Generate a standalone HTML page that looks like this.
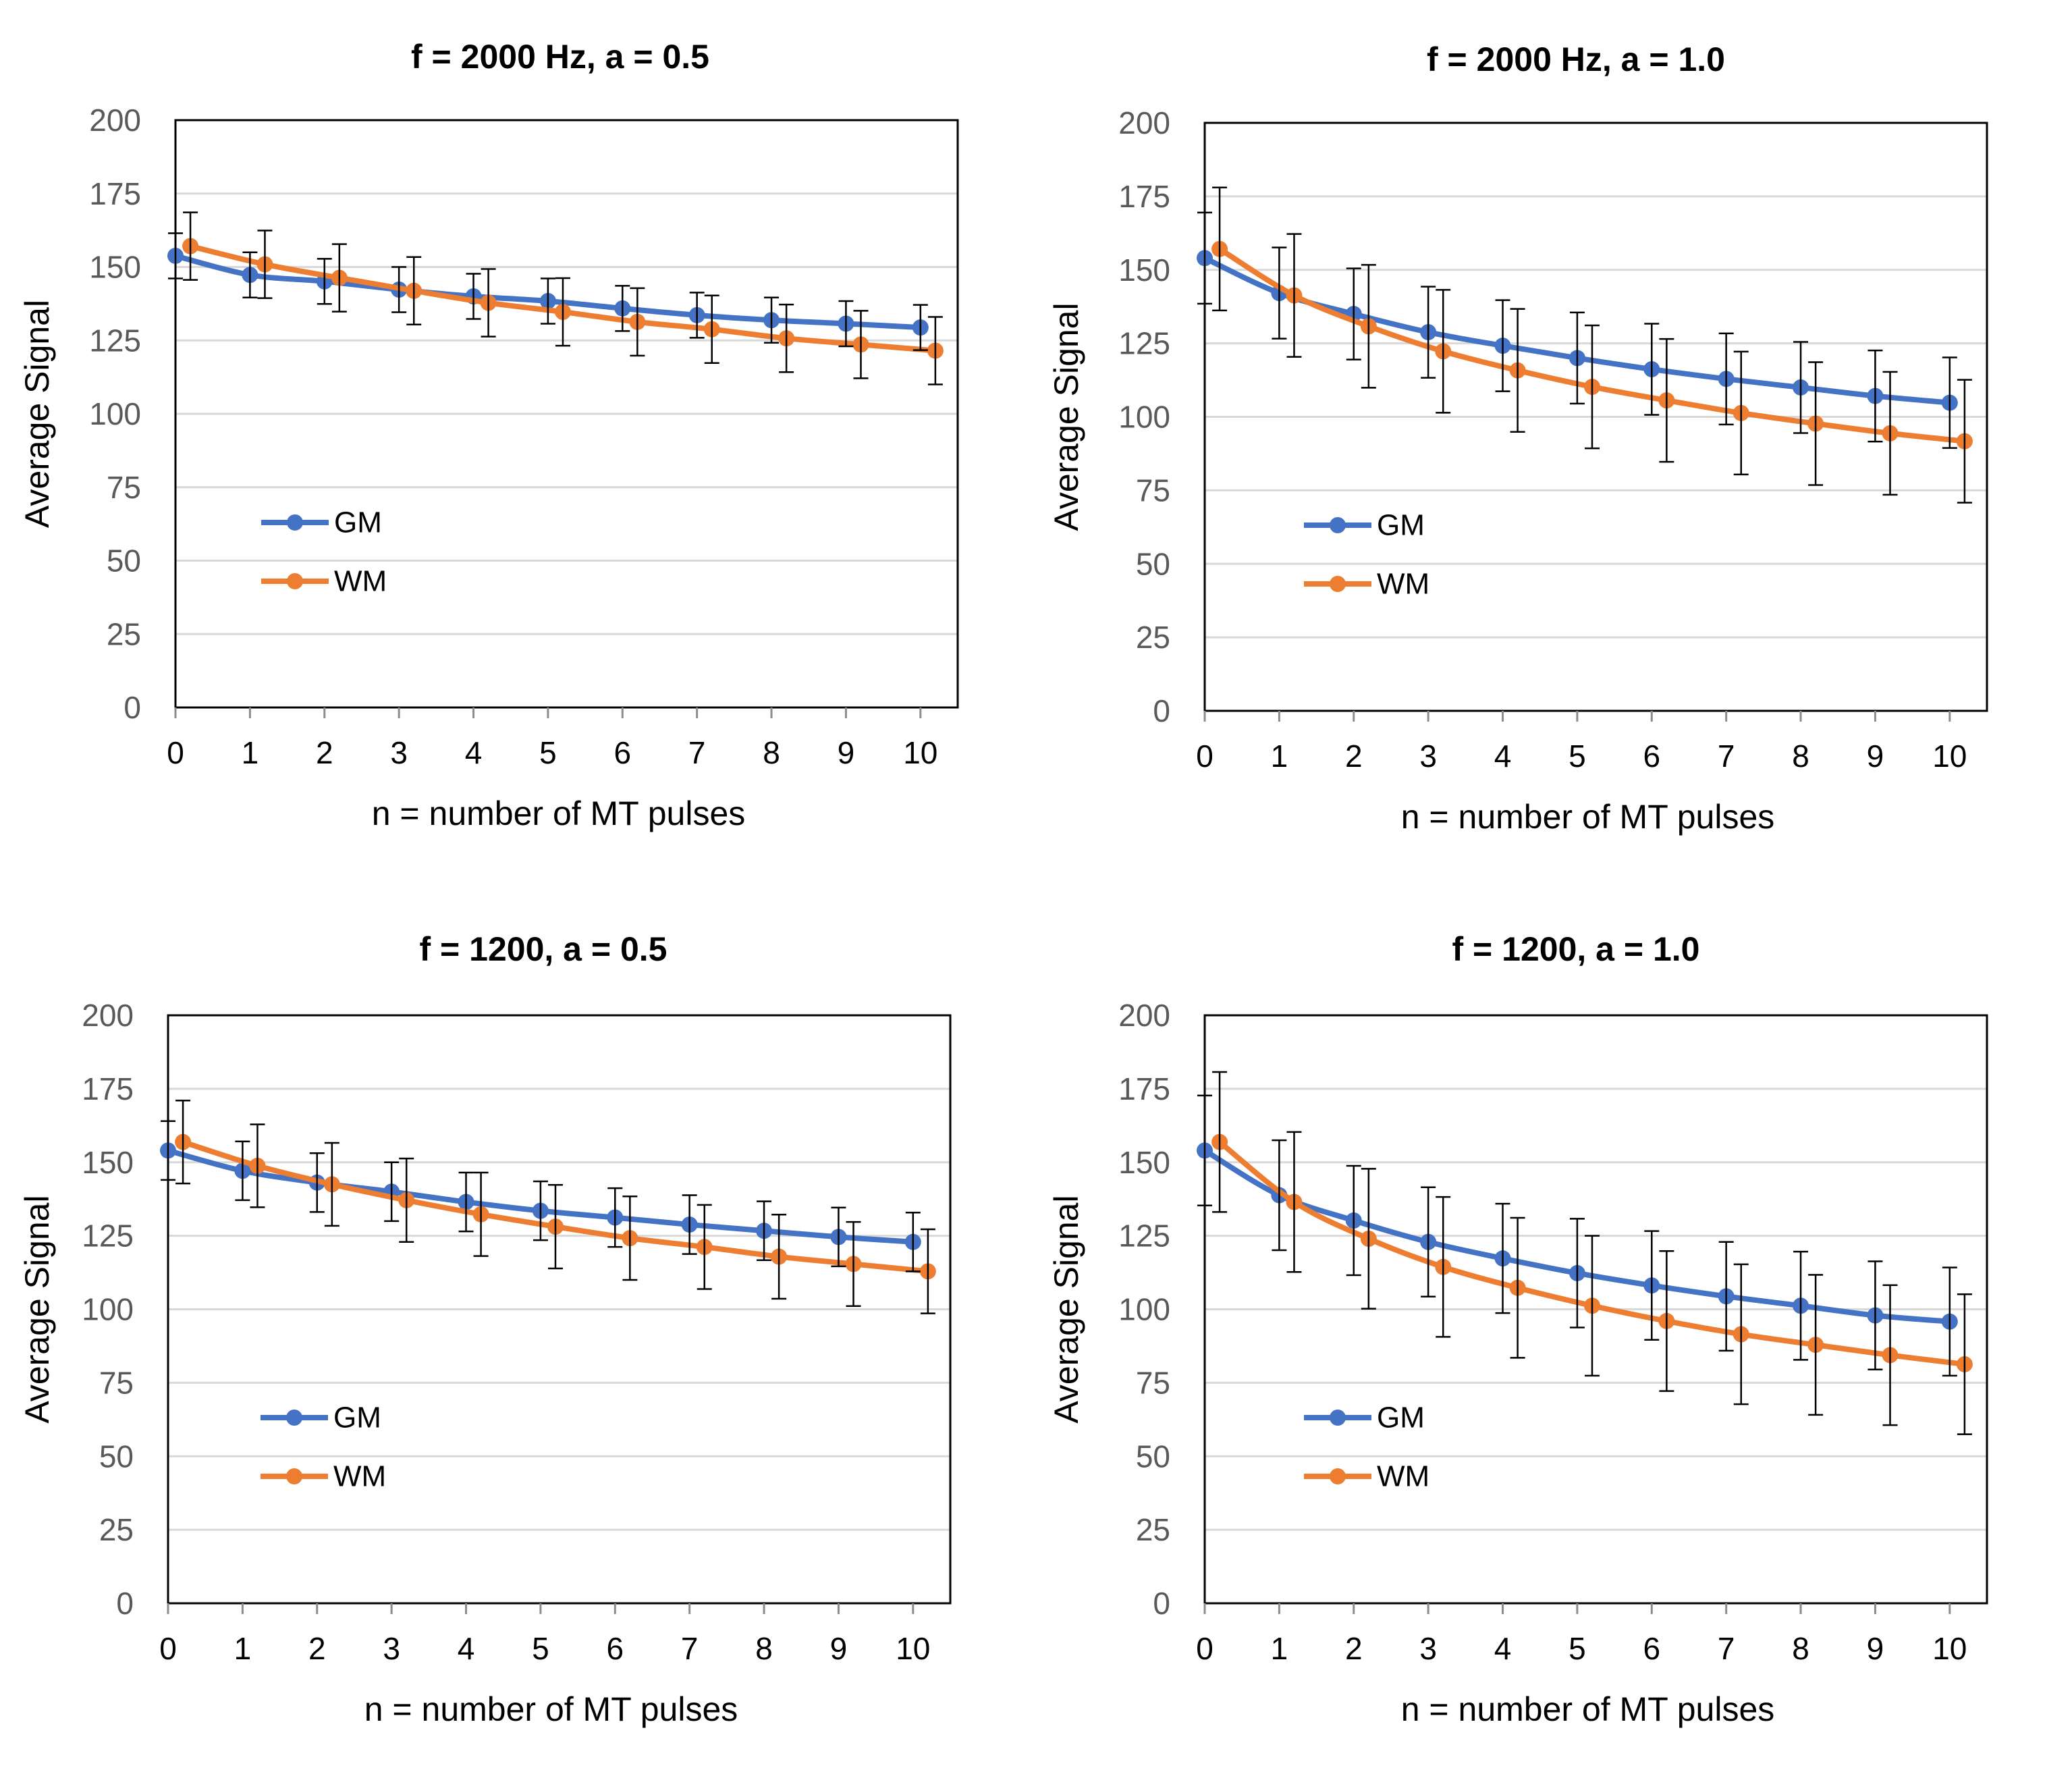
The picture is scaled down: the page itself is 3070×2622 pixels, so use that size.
<!DOCTYPE html>
<html><head><meta charset="utf-8"><style>
html,body{margin:0;padding:0;background:#fff;}
svg{display:block;font-family:"Liberation Sans",sans-serif;}
</style></head><body>
<svg id="fig" width="3070" height="2622" viewBox="0 0 3070 2622" xmlns="http://www.w3.org/2000/svg"></svg>
<script>
const categories = [0,1,2,3,4,5,6,7,8,9,10];
const yTicks = [0,25,50,75,100,125,150,175,200];
const titles = ["f = 2000 Hz, a = 0.5","f = 2000 Hz, a = 1.0","f = 1200, a = 0.5","f = 1200, a = 1.0"];
const gm1 = [153.8,147.3,145.1,142.3,140.0,138.4,135.9,133.6,131.9,130.7,129.4];
const wm1 = [157.1,150.9,146.3,141.9,137.8,134.7,131.3,128.8,125.7,123.6,121.5];
const gm1Err = [7.7,7.7,7.7,7.7,7.7,7.7,7.7,7.7,7.7,7.7,7.7];
const wm1Err = [11.5,11.5,11.5,11.5,11.5,11.5,11.5,11.5,11.5,11.5,11.5];
const gm2 = [154.0,142.1,135.0,128.8,124.2,120.0,116.2,112.9,110.0,107.1,104.8];
const wm2 = [157.1,141.3,130.8,122.3,115.8,110.2,105.6,101.3,97.7,94.4,91.7];
const gm2Err = [15.5,15.5,15.5,15.5,15.5,15.5,15.5,15.5,15.5,15.5,15.4];
const wm2Err = [20.9,20.9,20.9,20.9,20.9,20.9,20.9,20.9,20.9,20.9,20.9];
const gm3 = [154.0,147.1,143.1,140.0,136.5,133.5,131.2,128.8,126.7,124.6,122.9];
const wm3 = [156.9,148.8,142.5,137.1,132.3,128.1,124.2,121.2,117.9,115.4,112.9];
const gm3Err = [10,10,10,10,10,10,10,10,10,10,10];
const wm3Err = [14.1,14.1,14.1,14.2,14.2,14.2,14.2,14.3,14.3,14.3,14.3];
const gm4 = [154.0,138.8,130.2,122.9,117.3,112.3,108.1,104.4,101.2,97.9,95.8];
const wm4 = [156.9,136.5,124.0,114.4,107.3,101.2,96.0,91.5,87.9,84.4,81.3];
const gm4Err = [18.7,18.7,18.6,18.6,18.6,18.5,18.5,18.5,18.4,18.4,18.4];
const wm4Err = [23.8,23.8,23.8,23.8,23.8,23.8,23.8,23.8,23.8,23.8,23.8];

const NS="http://www.w3.org/2000/svg";
const svg=document.getElementById('fig');
function mk(tag,attrs,parent){const e=document.createElementNS(NS,tag);for(const k in attrs)e.setAttribute(k,attrs[k]);(parent||svg).appendChild(e);return e;}

const panels=[
 {L:260,R:1419,T:178,B:1048,title:titles[0],gm:gm1,wm:wm1,ge:gm1Err,we:wm1Err,tx:830,ty:84,legX:387,ytx:55},
 {L:1785,R:2944,T:182,B:1053,title:titles[1],gm:gm2,wm:wm2,ge:gm2Err,we:wm2Err,tx:2335,ty:88,legX:1932,ytx:1580},
 {L:249,R:1408,T:1504,B:2375,title:titles[2],gm:gm3,wm:wm3,ge:gm3Err,we:wm3Err,tx:805,ty:1406,legX:386,ytx:55},
 {L:1785,R:2944,T:1504,B:2375,title:titles[3],gm:gm4,wm:wm4,ge:gm4Err,we:wm4Err,tx:2335,ty:1406,legX:1932,ytx:1580}
];

function smoothPath(pts){
  let d="M"+pts[0][0]+","+pts[0][1];
  const t=1/6;
  for(let i=0;i<pts.length-1;i++){
    const p0=pts[i-1]||pts[i],p1=pts[i],p2=pts[i+1],p3=pts[i+2]||p2;
    const c1=[p1[0]+(p2[0]-p0[0])*t, p1[1]+(p2[1]-p0[1])*t];
    const c2=[p2[0]-(p3[0]-p1[0])*t, p2[1]-(p3[1]-p1[1])*t];
    d+=" C"+c1[0]+","+c1[1]+" "+c2[0]+","+c2[1]+" "+p2[0]+","+p2[1];
  }
  return d;
}

panels.forEach((p,pi)=>{
  const g=mk('g',{});
  
  
  const step=(p.R-p.L)/10.5;
  const xs=v=>p.L+v*step;
  const ys=v=>p.B-(v/200)*(p.B-p.T);
  const t=mk('text',{x:p.tx,y:p.ty,'text-anchor':'middle','dominant-baseline':'central','font-size':50,'font-weight':'bold',fill:'#000'},g);
  t.textContent=p.title;
  
  
  yTicks.forEach(v=>{
    if(v>0&&v<200){const gl=mk('line',{x1:p.L,x2:p.R,y1:ys(v),y2:ys(v),stroke:'#d9d9d9','stroke-width':3},g);
    
    }
    const lb=mk('text',{x:p.L-51,y:ys(v),'text-anchor':'end','dominant-baseline':'central','font-size':46,fill:'#595959'},g);
    lb.textContent=v;
    
    
  });
  const box=mk('rect',{x:p.L,y:p.T,width:p.R-p.L,height:p.B-p.T,fill:'none',stroke:'#000','stroke-width':3},g);
  
  
  categories.forEach(c=>{
    const tk=mk('line',{x1:xs(c),x2:xs(c),y1:p.B,y2:p.B+16,stroke:'#8c8c8c','stroke-width':3},g);
    
    
    const lb=mk('text',{x:xs(c),y:p.B+67,'text-anchor':'middle','dominant-baseline':'central','font-size':46,fill:'#000'},g);
    lb.textContent=c;
    
    
  });
  const xt=mk('text',{x:(p.L+p.R)/2-12,y:p.B+157,'text-anchor':'middle','dominant-baseline':'central','font-size':50,fill:'#000'},g);
  xt.textContent="n = number of MT pulses";
  
  
  const yc=(p.T+p.B)/2;
  const yt=mk('text',{x:p.ytx,y:yc,'text-anchor':'middle','dominant-baseline':'central','font-size':50,fill:'#000',transform:'rotate(-90 '+p.ytx+' '+yc+')'},g);
  yt.textContent="Average Signal";
  
  

  const series=[{v:p.gm,e:p.ge,off:0,col:'#4472c4',name:'gm'},{v:p.wm,e:p.we,off:0.2,col:'#ed7d31',name:'wm'}];
  series.forEach(s=>{
    const pts=categories.map((c,i)=>[xs(c+s.off),ys(s.v[i])]);
    const ln=mk('path',{d:smoothPath(pts),fill:'none',stroke:s.col,'stroke-width':8,'stroke-linecap':'round'},g);
    
    
    categories.forEach((c,i)=>{
      const mkr=mk('circle',{cx:xs(c+s.off),cy:ys(s.v[i]),r:12,fill:s.col},g);
      
      
    });
  });
  series.forEach(s=>{
    categories.forEach((c,i)=>{
      const x=xs(c+s.off),y1=ys(s.v[i]+s.e[i]),y2=ys(s.v[i]-s.e[i]);
      const eb=mk('path',{d:`M${x},${y1}V${y2}M${x-11},${y1}H${x+11}M${x-11},${y2}H${x+11}`,stroke:'#000','stroke-width':2.5,fill:'none'},g);
      
      
    });
  });
  [['GM','#4472c4',p.T+596],['WM','#ed7d31',p.T+683]].forEach(([n,col,y])=>{
    const lg=mk('g',{},g);
    
    
    mk('line',{x1:p.legX,x2:p.legX+100,y1:y,y2:y,stroke:col,'stroke-width':8},lg);
    mk('circle',{cx:p.legX+50,cy:y,r:12,fill:col},lg);
    const tx=mk('text',{x:p.legX+108,y:y,'dominant-baseline':'central','font-size':44,fill:'#000'},lg);
    tx.textContent=n;
  });
});
</script>
</body></html>
